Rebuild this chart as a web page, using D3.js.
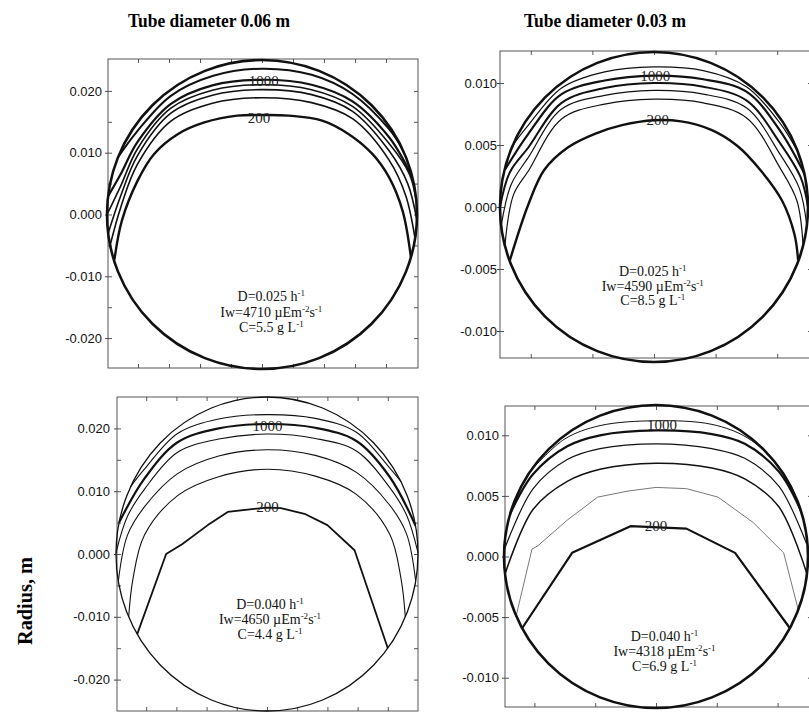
<!DOCTYPE html>
<html>
<head>
<meta charset="utf-8">
<script src="https://cdn.jsdelivr.net/npm/d3@7"></script>
<style>
body { margin: 0; background: #fff; }
svg { display: block; }
</style>
</head>
<body>
<svg id="chart" width="809" height="713"></svg>
<script>
// column titles and the shared y label
var columnTitles = ["Tube diameter 0.06 m", "Tube diameter 0.03 m"];
var yAxisTitle = "Radius, m";

// tube radius (m) of each panel: top-left, top-right, bottom-left, bottom-right
var tubeRadius = [0.025, 0.0125, 0.025, 0.0125];

// operating conditions printed inside each panel
var dilution = ["0.025", "0.025", "0.040", "0.040"];
var irradiance = ["4710", "4590", "4650", "4318"];
var concentration = ["5.5", "8.5", "4.4", "6.9"];

// tick values
var bigTubeLabels = [0.020, 0.010, 0.000, -0.010, -0.020];
var smallTubeLabels = [0.010, 0.005, 0.000, -0.005, -0.010];
var bigTubeTicks = [-0.020, -0.015, -0.010, -0.005, 0.000, 0.005, 0.010, 0.015, 0.020];
var smallTubeTicks = [-0.010, -0.005, 0.000, 0.005, 0.010];

// contour labels
var contourLabels = ["200", "1000"];

// light contours, [x, y] in m, from lowest (200) to highest
var contoursA = [
    [[-0.0238,-0.0073],[-0.0226,-0.0010],[-0.0201,0.0054],[-0.0174,0.0098],[-0.0136,0.0130],[-0.0093,0.0149],[-0.0040,0.0160],[0.0000,0.0161],[0.0043,0.0160],[0.0097,0.0152],[0.0140,0.0130],[0.0178,0.0098],[0.0205,0.0060],[0.0227,0.0005],[0.0240,-0.0068]],
    [[-0.0245,-0.0050],[-0.0228,0.0011],[-0.0201,0.0081],[-0.0147,0.0151],[-0.0080,0.0180],[0.0000,0.0189],[0.0080,0.0181],[0.0146,0.0155],[0.0205,0.0088],[0.0232,0.0030],[0.0247,-0.0040]],
    [[-0.0248,-0.0030],[-0.0228,0.0030],[-0.0201,0.0095],[-0.0147,0.0164],[-0.0080,0.0193],[0.0000,0.0202],[0.0080,0.0194],[0.0146,0.0167],[0.0205,0.0103],[0.0235,0.0050],[0.0250,-0.0010]],
    [[-0.0250,0.0000],[-0.0228,0.0046],[-0.0201,0.0106],[-0.0147,0.0172],[-0.0080,0.0201],[0.0000,0.0210],[0.0080,0.0202],[0.0146,0.0175],[0.0205,0.0115],[0.0238,0.0065],[0.0249,0.0020]],
    [[-0.0248,0.0030],[-0.0228,0.0065],[-0.0201,0.0117],[-0.0147,0.0179],[-0.0080,0.0209],[0.0000,0.0218],[0.0080,0.0210],[0.0146,0.0183],[0.0205,0.0125],[0.0230,0.0085],[0.0243,0.0059]],
    [[-0.0232,0.0093],[-0.0201,0.0135],[-0.0147,0.0192],[-0.0080,0.0224],[0.0000,0.0236],[0.0080,0.0226],[0.0146,0.0195],[0.0205,0.0138],[0.0226,0.0107]]
];
var contoursB = [
    [[-0.0117,-0.0043],[-0.0102,0.0002],[-0.0089,0.0030],[-0.0070,0.0048],[-0.0048,0.0059],[-0.0026,0.0066],[0.0000,0.0070],[0.0022,0.0069],[0.0047,0.0062],[0.0068,0.0049],[0.0087,0.0029],[0.0104,0.0005],[0.0114,-0.0022],[0.0117,-0.0043]],
    [[-0.0121,-0.0031],[-0.0114,0.0010],[-0.0102,0.0029],[-0.0075,0.0071],[-0.0040,0.0083],[0.0000,0.0087],[0.0040,0.0084],[0.0075,0.0072],[0.0102,0.0032],[0.0116,0.0005],[0.0121,-0.0031]],
    [[-0.0124,-0.0015],[-0.0116,0.0018],[-0.0102,0.0040],[-0.0075,0.0079],[-0.0040,0.0090],[0.0000,0.0094],[0.0040,0.0091],[0.0075,0.0080],[0.0102,0.0043],[0.0118,0.0015],[0.0124,-0.0015]],
    [[-0.0125,0.0000],[-0.0117,0.0028],[-0.0102,0.0048],[-0.0075,0.0084],[-0.0040,0.0096],[0.0000,0.0100],[0.0040,0.0097],[0.0075,0.0086],[0.0102,0.0052],[0.0119,0.0024],[0.0125,0.0000]],
    [[-0.0121,0.0030],[-0.0102,0.0059],[-0.0075,0.0091],[-0.0040,0.0102],[0.0000,0.0106],[0.0040,0.0103],[0.0075,0.0093],[0.0102,0.0062],[0.0122,0.0027]],
    [[-0.0116,0.0048],[-0.0102,0.0066],[-0.0075,0.0096],[-0.0040,0.0109],[0.0000,0.0113],[0.0040,0.0110],[0.0075,0.0097],[0.0102,0.0068],[0.0117,0.0044]]
];
var contoursC = [
    [[-0.0215,-0.0128],[-0.0167,0.0000],[-0.0140,0.0016],[-0.0098,0.0046],[-0.0065,0.0067],[-0.0021,0.0072],[0.0000,0.0074],[0.0023,0.0073],[0.0062,0.0064],[0.0100,0.0046],[0.0145,0.0006],[0.0200,-0.0150]],
    [[-0.0229,-0.0100],[-0.0222,-0.0040],[-0.0203,0.0030],[-0.0148,0.0093],[-0.0080,0.0123],[0.0000,0.0135],[0.0080,0.0124],[0.0148,0.0095],[0.0203,0.0032],[0.0222,-0.0040],[0.0229,-0.0100]],
    [[-0.0246,-0.0042],[-0.0231,0.0030],[-0.0203,0.0075],[-0.0148,0.0128],[-0.0080,0.0156],[0.0000,0.0166],[0.0080,0.0157],[0.0148,0.0130],[0.0203,0.0078],[0.0231,0.0032],[0.0246,-0.0042]],
    [[-0.0250,0.0002],[-0.0231,0.0060],[-0.0203,0.0103],[-0.0148,0.0162],[-0.0080,0.0183],[0.0000,0.0191],[0.0080,0.0184],[0.0148,0.0164],[0.0203,0.0106],[0.0231,0.0062],[0.0250,0.0002]],
    [[-0.0245,0.0050],[-0.0203,0.0120],[-0.0148,0.0178],[-0.0080,0.0200],[0.0000,0.0207],[0.0080,0.0201],[0.0148,0.0180],[0.0203,0.0123],[0.0246,0.0045]],
    [[-0.0226,0.0107],[-0.0203,0.0135],[-0.0148,0.0192],[-0.0080,0.0215],[0.0000,0.0222],[0.0080,0.0216],[0.0148,0.0194],[0.0203,0.0137],[0.0222,0.0115]]
];
var contoursD = [
    [[-0.0110,-0.0059],[-0.0069,0.0003],[-0.0021,0.0025],[0.0025,0.0023],[0.0065,0.0003],[0.0110,-0.0059]],
    [[-0.0115,-0.0049],[-0.0102,0.0006],[-0.0097,0.0009],[-0.0073,0.0030],[-0.0048,0.0049],[-0.0023,0.0054],[0.0000,0.0057],[0.0025,0.0056],[0.0051,0.0049],[0.0080,0.0028],[0.0105,0.0003],[0.0117,-0.0044]],
    [[-0.0124,-0.0014],[-0.0101,0.0039],[-0.0073,0.0062],[-0.0046,0.0072],[0.0000,0.0077],[0.0046,0.0073],[0.0073,0.0064],[0.0101,0.0041],[0.0124,-0.0014]],
    [[-0.0125,0.0005],[-0.0101,0.0056],[-0.0073,0.0080],[-0.0046,0.0089],[0.0000,0.0093],[0.0046,0.0089],[0.0073,0.0081],[0.0101,0.0058],[0.0124,0.0010]],
    [[-0.0120,0.0035],[-0.0101,0.0068],[-0.0073,0.0091],[-0.0046,0.0100],[0.0000,0.0104],[0.0046,0.0101],[0.0073,0.0093],[0.0101,0.0070],[0.0119,0.0038]],
    [[-0.0100,0.0074],[-0.0075,0.0097],[-0.0046,0.0108],[0.0000,0.0112],[0.0046,0.0109],[0.0075,0.0098],[0.0100,0.0076],[0.0113,0.0055]]
];

// where "200" and "1000" sit, [x, y] in m
var labelSpotsA = [[-0.0005, 0.0157], [0.0003, 0.0216]];
var labelSpotsB = [[0.0003, 0.0070], [0.0001, 0.0106]];
var labelSpotsC = [[0.0001, 0.0075], [0.0001, 0.0205]];
var labelSpotsD = [[0.0000, 0.0025], [0.0005, 0.0109]];

window.onload = function()
{
    main();
};

function main()
{
    var svg = d3.select("#chart"),
        contours = [contoursA, contoursB, contoursC, contoursD],
        labelSpots = [labelSpotsA, labelSpotsB, labelSpotsC, labelSpotsD],
        // page layout of the four panels (pixels)
        layout = [
            { frame: [108, 59, 418, 368], xr: [107, 417], yr: [369, 60], gap: 6,
              labels: bigTubeLabels, ticks: bigTubeTicks, text: [0.0015, -0.0140], lh: 15.5,
              circleW: 2.6, widths: [2.4, 1.6, 1.6, 1.6, 2.2, 2.0], straight: [] },
            { frame: [500, 51, 812, 358], xr: [500, 808], yr: [362, 52], gap: 3,
              labels: smallTubeLabels, ticks: smallTubeTicks, text: [-0.0001, -0.0056], lh: 14.5,
              circleW: 2.6, widths: [2.4, 1.2, 1.2, 2.0, 2.2, 1.2], straight: [] },
            { frame: [117, 397, 418, 711], xr: [116, 418], yr: [711, 397], gap: 7,
              labels: bigTubeLabels, ticks: bigTubeTicks, text: [0.0005, -0.0088], lh: 15,
              circleW: 1.3, widths: [1.8, 1.1, 1.1, 1.1, 2.2, 1.1], straight: [0] },
            { frame: [505, 406, 812, 707], xr: [504, 808], yr: [708, 405], gap: 6,
              labels: smallTubeLabels, ticks: smallTubeTicks, text: [0.0007, -0.0070], lh: 15,
              circleW: 2.6, widths: [2.2, 0.8, 1.5, 1.2, 2.2, 1.0], straight: [0, 1] }
        ];

    layout.forEach(function(p, i)
    {
        _drawPanel(svg, p, i, contours[i], labelSpots[i]);
    });

    // column titles
    svg.selectAll("text.title")
        .data(columnTitles)
        .enter().append("text")
        .attr("class", "title")
        .attr("x", function(d, i) { return i === 0 ? 209 : 605; })
        .attr("y", 27)
        .attr("text-anchor", "middle")
        .attr("font-family", "'Liberation Serif', 'Times New Roman', serif")
        .attr("font-weight", "bold")
        .attr("font-size", 19)
        .attr("textLength", 162)
        .attr("lengthAdjust", "spacingAndGlyphs")
        .text(function(d) { return d; });

    // y title
    svg.append("text")
        .attr("transform", "translate(32,601) rotate(-90)")
        .attr("text-anchor", "middle")
        .attr("font-family", "'Liberation Serif', 'Times New Roman', serif")
        .attr("font-weight", "bold")
        .attr("font-size", 22)
        .attr("textLength", 88)
        .attr("lengthAdjust", "spacingAndGlyphs")
        .text(yAxisTitle);
}

// one tube cross section with its contours
function _drawPanel(svg, p, i, curves, spots)
{
    var R = tubeRadius[i],
        x = d3.scaleLinear().domain([-R, R]).range(p.xr),
        y = d3.scaleLinear().domain([-R, R]).range(p.yr),
        f = p.frame,
        g = svg.append("g"),
        clipId = "tube" + i;

    // frame
    g.append("rect")
        .attr("x", f[0]).attr("y", f[1])
        .attr("width", f[2] - f[0]).attr("height", f[3] - f[1])
        .attr("fill", "none")
        .attr("stroke", "#444")
        .attr("stroke-width", 0.9);

    // inward ticks on every side
    _tickSide(g, d3.axisTop(x), p.ticks, "translate(0," + f[1] + ")");
    _tickSide(g, d3.axisBottom(x), p.ticks, "translate(0," + f[3] + ")");
    _tickSide(g, d3.axisLeft(y), p.ticks, "translate(" + f[0] + ",0)");
    _tickSide(g, d3.axisRight(y), p.ticks, "translate(" + f[2] + ",0)");

    // labelled left axis
    var left = g.append("g")
        .attr("transform", "translate(" + f[0] + ",0)")
        .call(d3.axisLeft(y)
            .tickValues(p.labels)
            .tickSize(3)
            .tickPadding(p.gap - 3)
            .tickFormat(function(d) { return d.toFixed(3); }));
    left.select(".domain").remove();
    left.selectAll("line").attr("stroke", "#444");
    left.selectAll("text")
        .attr("font-family", "'Liberation Sans', Arial, sans-serif")
        .attr("font-size", 13)
        .attr("fill", "#111");

    // clip to the tube wall
    g.append("clipPath")
        .attr("id", clipId)
        .append("ellipse")
        .attr("cx", x(0)).attr("cy", y(0))
        .attr("rx", x(R) - x(0) + 1).attr("ry", y(-R) - y(0) + 1);

    var smooth = d3.line()
            .x(function(d) { return x(d[0]); })
            .y(function(d) { return y(d[1]); })
            .curve(d3.curveCatmullRom.alpha(0.5)),
        sharp = d3.line()
            .x(function(d) { return x(d[0]); })
            .y(function(d) { return y(d[1]); });

    g.append("g")
        .attr("clip-path", "url(#" + clipId + ")")
        .selectAll("path")
        .data(curves)
        .enter().append("path")
        .attr("d", function(d, k) { return p.straight.indexOf(k) >= 0 ? sharp(d) : smooth(d); })
        .attr("fill", "none")
        .attr("stroke", function(d, k) { return p.widths[k] < 1 ? "#555" : "#111"; })
        .attr("stroke-width", function(d, k) { return p.widths[k]; })
        .attr("stroke-linejoin", "round");

    // tube wall
    g.append("ellipse")
        .attr("cx", x(0)).attr("cy", y(0))
        .attr("rx", x(R) - x(0)).attr("ry", y(-R) - y(0))
        .attr("fill", "none")
        .attr("stroke", "#111")
        .attr("stroke-width", p.circleW);

    // contour labels, struck through by their line
    g.selectAll("text.level")
        .data(spots)
        .enter().append("text")
        .attr("class", "level")
        .attr("x", function(d) { return x(d[0]); })
        .attr("y", function(d) { return y(d[1]); })
        .attr("dy", "0.35em")
        .attr("text-anchor", "middle")
        .attr("font-family", "'Liberation Serif', 'Times New Roman', serif")
        .attr("font-size", 15)
        .attr("fill", "#222")
        .text(function(d, k) { return contourLabels[k]; });

    // conditions
    var lines = [
            [["D=" + dilution[i] + " h"], ["-1", 1]],
            [["Iw=" + irradiance[i] + " \u00b5Em"], ["-2", 1], ["s"], ["-1", 1]],
            [["C=" + concentration[i] + " g L"], ["-1", 1]]
        ],
        tx = x(p.text[0]),
        ty = y(p.text[1]);

    lines.forEach(function(parts, n)
    {
        var t = g.append("text")
            .attr("x", tx)
            .attr("y", ty + n * p.lh)
            .attr("text-anchor", "middle")
            .attr("font-family", "'Liberation Serif', 'Times New Roman', serif")
            .attr("font-size", 14)
            .attr("fill", "#111");
        parts.forEach(function(part, m)
        {
            var s = t.append("tspan").text(part[0]);
            if (part[1])
            {
                s.attr("font-size", 9).attr("dy", -5);
            }
            else if (m > 0)
            {
                s.attr("dy", 5);
            }
        });
    });
}

// minor ticks pointing into the frame
function _tickSide(g, axis, values, transform)
{
    var a = g.append("g")
        .attr("transform", transform)
        .call(axis.tickValues(values).tickSize(-4).tickFormat(""));
    a.select(".domain").remove();
    a.selectAll("line").attr("stroke", "#444").attr("stroke-width", 0.9);
}
</script>
</body>
</html>
